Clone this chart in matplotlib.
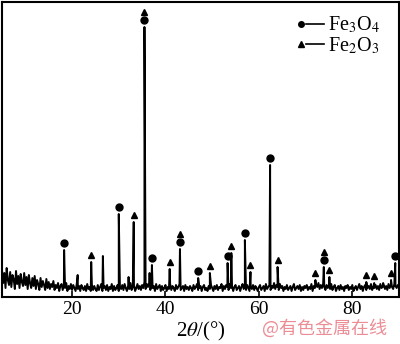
import numpy as np
import matplotlib
matplotlib.use('Agg')
import matplotlib.pyplot as plt
from matplotlib.lines import Line2D
from matplotlib.legend_handler import HandlerBase

plt.rcParams['font.family'] = ['Liberation Serif', 'Noto Sans CJK SC']
plt.rcParams['mathtext.fontset'] = 'stix'

# background counts, 2theta = 5 ... 90 step 0.25
bg_start, bg_step = 5.0, 0.25
background = [
    27, 14, 24, 9, 29, 17, 12, 25, 10, 22, 18, 8, 26, 13, 21, 9, 23, 15, 11, 24,
    12, 20, 8, 22, 14, 9, 19, 11, 21, 8, 17, 13, 7, 19, 10, 16, 12, 7, 18, 9,
    15, 8, 13, 10, 16, 7, 12, 9, 14, 6, 11, 13, 7, 12, 9, 14, 6, 11, 8, 13,
    7, 12, 9, 6, 13, 8, 11, 6, 12, 9, 7, 11, 6, 13, 8, 10, 6, 12, 7, 11,
    8, 6, 12, 7, 10, 13, 6, 9, 11, 7, 12, 6, 10, 8, 13, 6, 11, 7, 9, 12,
    6, 10, 8, 12, 7, 13, 9, 6, 11, 8, 14, 7, 10, 12, 6, 9, 13, 8, 11, 7,
    12, 9, 15, 8, 13, 10, 14, 7, 12, 9, 11, 6, 13, 8, 10, 12, 6, 11, 7, 9,
    12, 6, 10, 8, 13, 7, 11, 9, 6, 12, 8, 10, 13, 7, 9, 11, 6, 12, 8, 10,
    7, 11, 9, 6, 12, 8, 10, 13, 7, 9, 11, 6, 10, 12, 7, 9, 6, 11, 8, 12,
    9, 6, 11, 8, 12, 7, 10, 9, 13, 6, 11, 8, 12, 10, 7, 13, 9, 11, 6, 10,
    12, 7, 9, 11, 6, 10, 13, 8, 11, 7, 12, 9, 6, 10, 8, 12, 7, 11, 9, 6,
    10, 12, 7, 9, 11, 6, 13, 8, 10, 12, 7, 11, 9, 14, 8, 12, 10, 7, 13, 9,
    11, 6, 10, 8, 12, 7, 9, 11, 6, 10, 13, 7, 9, 11, 8, 12, 6, 10, 7, 11,
    9, 12, 7, 10, 8, 13, 6, 11, 9, 12, 10, 14, 8, 12, 9, 13, 10, 7, 12, 9,
    11, 8, 13, 7, 10, 12, 6, 9, 11, 7, 12, 8, 10, 6, 11, 9, 12, 7, 10, 8,
    12, 6, 9, 11, 7, 10, 13, 8, 11, 6, 10, 12, 7, 9, 11, 8, 13, 7, 10, 9,
    12, 8, 11, 7, 13, 9, 10, 12, 8, 11, 7, 13, 9, 12, 10, 8, 13, 11, 9, 12,
    10,
]

# diffraction peaks: position (2theta) and peak intensity
peak_pos = [18.3, 21.2, 24.1, 26.6, 30.0, 32.1, 33.2, 35.5, 36.6, 37.1,
            40.9, 43.1, 47.0, 49.5, 53.3, 54.1, 57.0, 58.2, 62.4, 64.0,
            72.1, 73.9, 75.1, 83.0, 84.7, 86.6, 88.3, 89.2]
peak_int = [47, 22, 35, 41, 83, 20, 75, 270, 24, 32,
            28, 48, 19, 24, 34, 44, 57, 25, 132, 30,
            17, 30, 20, 15, 14, 14, 17, 34]

fe3o4_peaks = [18.3, 30.0, 35.5, 37.1, 43.1, 47.0, 53.3, 57.0, 62.4, 73.9, 89.2]
fe2o3_peaks = [24.1, 33.2, 35.5, 40.9, 43.1, 49.5, 54.1, 58.2, 64.0, 72.1,
               73.9, 75.1, 83.0, 84.7, 88.3]

bg_x = bg_start + bg_step * np.arange(len(background))
x = np.concatenate([bg_x, peak_pos])
y = np.concatenate([background, peak_int])
order = np.argsort(x, kind='stable')
x, y = x[order], y[order]

height = dict(zip(peak_pos, peak_int))


class MarkerDash(HandlerBase):
    # marker on the left, short dash to its right: "• —"
    def create_artists(self, legend, orig_handle, xdescent, ydescent,
                       width, height, fontsize, trans):
        yc = height / 2 - ydescent
        x0 = -xdescent
        mk = Line2D([x0 + 2.2], [yc], marker=orig_handle.get_marker(),
                    ls='', color='black', ms=4)
        ln = Line2D([x0 + 6.0, x0 + width], [yc, yc], color='black', lw=1.2)
        mk.set_transform(trans)
        ln.set_transform(trans)
        return [mk, ln]


fig = plt.figure(figsize=(4.0, 3.44), dpi=100)
ax = fig.add_axes([0.005, 0.1366, 0.9925, 0.8576])
ax.plot(x, y, color='black', lw=1.4)

# phase markers above peaks
circ_y = [height[p] + 7 for p in fe3o4_peaks]
tri_y = [height[p] + (15 if p in fe3o4_peaks else 7) for p in fe2o3_peaks]
ax.plot(fe3o4_peaks, circ_y, 'o', color='black', ms=5, clip_on=False)
ax.plot(fe2o3_peaks, tri_y, '^', color='black', ms=5, clip_on=False)

ax.set_xlim(5, 90)
ax.set_ylim(0, 295)
ax.set_xticks([20, 40, 60, 80])
ax.set_yticks([])
ax.tick_params(axis='x', direction='in', length=4, width=1.2, labelsize=14, pad=3)
for s in ax.spines.values():
    s.set_linewidth(1.5)
ax.set_xlabel(r'2$\theta$/(°)', fontsize=15, labelpad=1)

h1 = Line2D([], [], marker='o', color='black')
h2 = Line2D([], [], marker='^', color='black')
ax.legend([h1, h2], [r'Fe$_3$O$_4$', r'Fe$_2$O$_3$'],
          handler_map={Line2D: MarkerDash()},
          loc='upper right', bbox_to_anchor=(0.985, 1.0),
          frameon=False, fontsize=14.5,
          handlelength=1.3, handletextpad=0.2, labelspacing=0.0,
          borderaxespad=0.25)

fig.text(0.655, 0.045, '@有色金属在线', color='#ec8d96', fontsize=13,
         family=['Noto Sans CJK SC'], va='center', ha='left')

fig.savefig('out.png', dpi=100)
